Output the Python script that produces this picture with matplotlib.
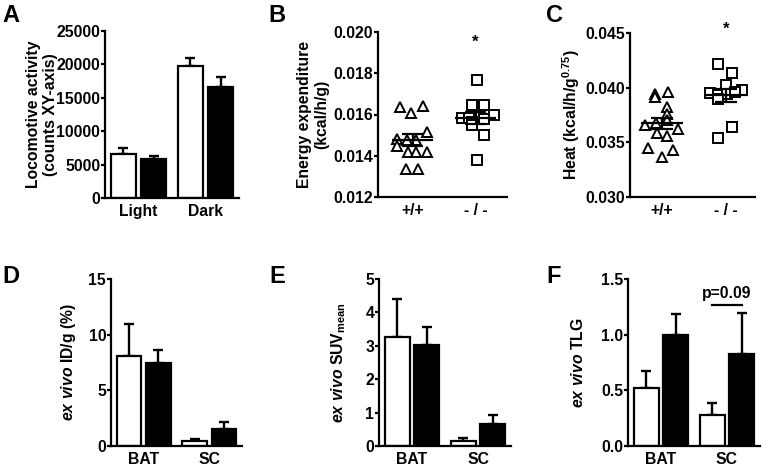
import numpy as np
import matplotlib
matplotlib.use('Agg')
import matplotlib.pyplot as plt

plt.rcParams['font.family'] = 'Liberation Sans'
plt.rcParams['font.weight'] = 'bold'
plt.rcParams['mathtext.fontset'] = 'custom'
plt.rcParams['mathtext.rm'] = 'Liberation Sans:bold'
plt.rcParams['mathtext.it'] = 'Liberation Sans:bold:italic'
plt.rcParams['mathtext.bf'] = 'Liberation Sans:bold'
plt.rcParams['axes.linewidth'] = 1.6

FS = 11.3

# A - locomotive activity
loco_cats = ['Light', 'Dark']
loco_wt = [6600, 19750]
loco_wt_err = [850, 1250]
loco_ko = [5800, 16550]
loco_ko_err = [550, 1550]

# B - energy expenditure
ee_wt = [0.01638, 0.01609, 0.01640, 0.01517, 0.01480, 0.01445, 0.01475,
         0.01475, 0.01417, 0.01417, 0.01420, 0.01335, 0.01335]
ee_wt_jit = [-0.20, -0.02, 0.17, 0.23, -0.25, -0.25, -0.09, 0.06, -0.08, 0.06, 0.23, -0.11, 0.08]
ee_ko = [0.01767, 0.01646, 0.01646, 0.01582, 0.01582, 0.01565, 0.01549,
         0.01577, 0.01597, 0.01503, 0.01379]
ee_ko_jit = [0.03, -0.06, 0.13, -0.22, -0.10, -0.06, -0.06, 0.13, 0.29, 0.13, 0.03]

# C - heat
heat_wt = [0.03945, 0.03914, 0.03960, 0.03822, 0.03761, 0.03663, 0.03675,
           0.03700, 0.03624, 0.03584, 0.03562, 0.03446, 0.03434, 0.03363]
heat_wt_jit = [-0.11, -0.11, 0.09, 0.08, 0.08, -0.26, -0.09, 0.08, 0.25, -0.08, 0.08, -0.22, 0.17, 0.0]
heat_ko = [0.04214, 0.04134, 0.04021, 0.03982, 0.03950, 0.03929, 0.03945,
           0.03899, 0.03960, 0.03639, 0.03541]
heat_ko_jit = [-0.12, 0.09, 0.0, 0.25, -0.25, -0.12, 0.02, -0.12, 0.14, 0.09, -0.12]

geno_labels = ['+/+', '- / -']

# D, E, F - ex vivo
tissue_cats = ['BAT', 'SC']
idg_wt = [8.1, 0.45]
idg_wt_err = [2.9, 0.2]
idg_ko = [7.5, 1.55]
idg_ko_err = [1.1, 0.65]

suv_wt = [3.25, 0.16]
suv_wt_err = [1.15, 0.08]
suv_ko = [3.03, 0.65]
suv_ko_err = [0.53, 0.27]

tlg_wt = [0.525, 0.28]
tlg_wt_err = [0.145, 0.11]
tlg_ko = [0.998, 0.827]
tlg_ko_err = [0.185, 0.37]

fig = plt.figure(figsize=(7.63, 4.72), dpi=100)


def style_axes(ax, label_x):
    for s in ['top', 'right']:
        ax.spines[s].set_visible(False)
    ax.tick_params(axis='y', direction='out', length=3, width=1.6, labelsize=FS, pad=0.5)
    ax.tick_params(axis='x', length=0, labelsize=FS, pad=4)
    for lab in ax.get_xticklabels() + ax.get_yticklabels():
        lab.set_fontweight('bold')
    ax.yaxis.set_label_coords(label_x, 0.5)


def bar_panel(ax, cats, wt, wt_err, ko, ko_err, ylim, yticks, ylabel, label_x):
    x = np.arange(len(cats))
    w = 0.38
    off = 0.225
    ax.bar(x - off, wt, w, color='white', edgecolor='black', linewidth=1.6, zorder=2)
    ax.bar(x + off, ko, w, color='black', edgecolor='black', linewidth=1.6, zorder=2)
    ax.errorbar(x - off, wt, yerr=[np.zeros(len(wt)), wt_err], fmt='none', ecolor='black',
                elinewidth=1.7, capsize=3.8, capthick=1.7, zorder=1)
    ax.errorbar(x + off, ko, yerr=[np.zeros(len(ko)), ko_err], fmt='none', ecolor='black',
                elinewidth=1.7, capsize=3.8, capthick=1.7, zorder=1)
    ax.set_xlim(-0.5, 1.5)
    ax.set_ylim(*ylim)
    ax.set_yticks(yticks)
    ax.set_xticks(x)
    ax.set_xticklabels(cats)
    ax.set_ylabel(ylabel, fontsize=FS, fontweight='bold')
    style_axes(ax, label_x)


def scatter_panel(ax, wt, wt_jit, ko, ko_jit, ylim, yticks, ylabel, star_y, label_x):
    groups = [(0, wt, wt_jit, '^'), (1, ko, ko_jit, 's')]
    for xc, vals, jit, mk in groups:
        vals = np.array(vals)
        xs = xc + np.array(jit)
        ax.plot(xs, vals, linestyle='none', marker=mk, markersize=7.5 if mk == '^' else 6.8,
                markerfacecolor='white', markeredgecolor='black', markeredgewidth=1.4, zorder=2)
        m = vals.mean()
        sem = vals.std(ddof=1) / np.sqrt(len(vals))
        ax.hlines(m, xc - 0.33, xc + 0.33, color='black', linewidth=1.6, zorder=3)
        ax.hlines([m - sem, m + sem], xc - 0.17, xc + 0.17, color='black', linewidth=1.6, zorder=3)
        ax.vlines(xc, m - sem, m + sem, color='black', linewidth=1.6, zorder=3)
    ax.text(1, star_y, '*', ha='center', va='center', fontsize=12, fontweight='bold', clip_on=False)
    ax.set_ylim(*ylim)
    ax.set_yticks(yticks)
    ax.set_xticks([0, 1])
    ax.set_xticklabels(geno_labels)
    ax.set_ylabel(ylabel, fontsize=FS, fontweight='bold')
    style_axes(ax, label_x)


axA = fig.add_axes([105 / 763, 1 - 198 / 472, 134 / 763, 167 / 472])
bar_panel(axA, loco_cats, loco_wt, loco_wt_err, loco_ko, loco_ko_err,
          (0, 25000), [0, 5000, 10000, 15000, 20000, 25000],
          'Locomotive activity\n(counts XY-axis)', -0.35)

axB = fig.add_axes([378 / 763, 1 - 197 / 472, 129 / 763, 165 / 472])
scatter_panel(axB, ee_wt, ee_wt_jit, ee_ko, ee_ko_jit, (0.012, 0.020),
              [0.012, 0.014, 0.016, 0.018, 0.020], 'Energy expenditure\n(kcal/h/g)', 0.0195, -0.375)
axB.set_xlim(-0.55, 1.5)

axC = fig.add_axes([630 / 763, 1 - 197 / 472, 125 / 763, 164 / 472])
scatter_panel(axC, heat_wt, heat_wt_jit, heat_ko, heat_ko_jit, (0.030, 0.045),
              [0.030, 0.035, 0.040, 0.045], 'Heat (kcal/h/g$^{0.75}$)', 0.0453, -0.38)
axC.set_xlim(-0.5, 1.45)

axD = fig.add_axes([111 / 763, 1 - 446 / 472, 131 / 763, 167 / 472])
bar_panel(axD, tissue_cats, idg_wt, idg_wt_err, idg_ko, idg_ko_err,
          (0, 15), [0, 5, 10, 15], r'$\mathit{ex\ vivo}$ ID/g (%)', -0.25)

axE = fig.add_axes([379 / 763, 1 - 446 / 472, 132 / 763, 167 / 472])
bar_panel(axE, tissue_cats, suv_wt, suv_wt_err, suv_ko, suv_ko_err,
          (0, 5), [0, 1, 2, 3, 4, 5], r'$\mathit{ex\ vivo}$ SUV$_{\mathrm{mean}}$', -0.235)

axF = fig.add_axes([628 / 763, 1 - 446 / 472, 132 / 763, 167 / 472])
bar_panel(axF, tissue_cats, tlg_wt, tlg_wt_err, tlg_ko, tlg_ko_err,
          (0, 1.5), [0.0, 0.5, 1.0, 1.5], r'$\mathit{ex\ vivo}$ TLG', -0.315)
axF.set_yticklabels(['0.0', '0.5', '1.0', '1.5'], fontweight='bold')
axF.plot([1 - 0.225, 1 + 0.225], [1.27, 1.27], color='black', linewidth=1.6, clip_on=False)
axF.text(1, 1.30, 'p=0.09', ha='center', va='bottom', fontsize=FS, fontweight='bold')

for letter, x, y in [('A', 2, 4), ('B', 268, 4), ('C', 546, 4),
                     ('D', 2, 265), ('E', 269, 265), ('F', 546, 265)]:
    fig.text(x / 763, 1 - y / 472, letter, fontsize=17, fontweight='bold', va='top', ha='left')

fig.savefig('out.png', dpi=100)
